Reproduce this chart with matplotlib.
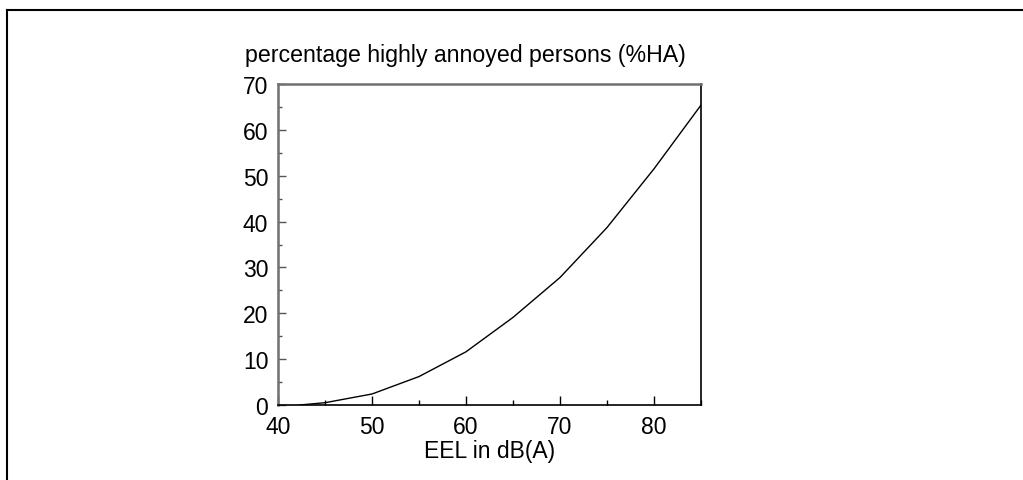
import matplotlib
matplotlib.use("Agg")
import matplotlib.pyplot as plt
from matplotlib.lines import Line2D
from matplotlib.ticker import MultipleLocator

# Exposure-response curve: equivalent exposure level vs. %HA
eel_db = [42.3, 45, 50, 55, 60, 65, 70, 75, 80, 85]
pct_highly_annoyed = [0.0, 0.5, 2.4, 6.2, 11.6, 19.1, 27.8, 38.7, 51.5, 65.4]

x_ticks = [40, 50, 60, 70, 80]
y_ticks = [0, 10, 20, 30, 40, 50, 60, 70]

plt.rcParams["font.family"] = ["Liberation Sans", "DejaVu Sans"]
W, H = 1023, 481
fig = plt.figure(figsize=(W / 100, H / 100), dpi=100)

ax = fig.add_axes([278 / W, 1 - 406 / H, 423 / W, 321 / H])
ax.plot(eel_db, pct_highly_annoyed, color="black", lw=1.0)

ax.set_xlim(40, 85)
ax.set_ylim(0, 70)
ax.set_xticks(x_ticks)
ax.set_yticks(y_ticks)
ax.xaxis.set_minor_locator(MultipleLocator(5))
ax.yaxis.set_minor_locator(MultipleLocator(5))

ax.tick_params(axis="both", which="both", direction="in", labelsize=16.5,
               top=False, right=False)
ax.tick_params(axis="x", which="major", length=6.5, width=1.0, color="black", pad=7.5)
ax.tick_params(axis="x", which="minor", length=3.5, width=1.0, color="black")
ax.tick_params(axis="y", which="major", length=6, width=1.0, color="#555555", pad=7)
ax.tick_params(axis="y", which="minor", length=3, width=1.0, color="#555555")

for side in ("left", "top"):
    ax.spines[side].set_color("#707070")
    ax.spines[side].set_linewidth(1.8)
for side in ("right", "bottom"):
    ax.spines[side].set_color("black")
    ax.spines[side].set_linewidth(1.2)

ax.set_xlabel("EEL in dB(A)", fontsize=16.5, labelpad=0.5)
fig.text(245 / W, 1 - 62 / H, "percentage highly annoyed persons (%HA)",
         fontsize=16.7, ha="left", va="baseline")

# Outer frame: top and left rules
fig.add_artist(Line2D([7 / W, 1.0], [1 - 10.5 / H, 1 - 10.5 / H],
                      transform=fig.transFigure, color="black", lw=1.5))
fig.add_artist(Line2D([7 / W, 7 / W], [1 - 10.5 / H, 0.0],
                      transform=fig.transFigure, color="black", lw=1.5))

fig.savefig("out.png", dpi=100)
